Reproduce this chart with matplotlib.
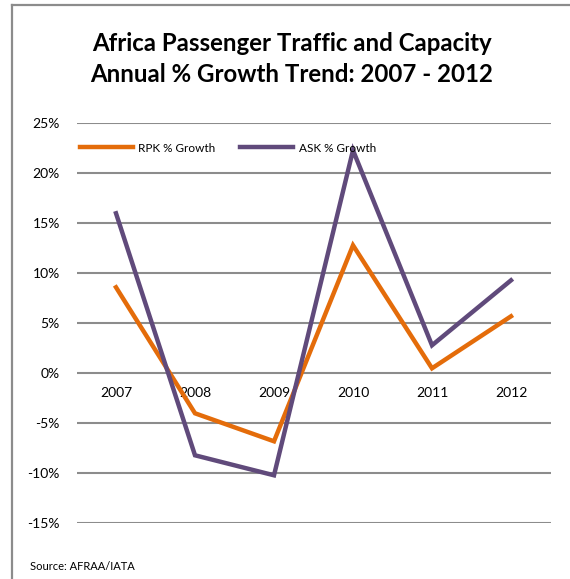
import matplotlib
matplotlib.use("Agg")
import matplotlib.pyplot as plt
from matplotlib.lines import Line2D

years = ["2007", "2008", "2009", "2010", "2011", "2012"]
rpk_growth = [8.6, -4.0, -6.8, 12.8, 0.5, 5.7]
ask_growth = [16.0, -8.2, -10.2, 22.3, 2.8, 9.3]
y_ticks = [-15, -10, -5, 0, 5, 10, 15, 20, 25]

W, H = 570, 579
plt.rcParams["font.family"] = ["Lato", "DejaVu Sans"]

fig = plt.figure(figsize=(W / 100, H / 100), dpi=100)
fig.patch.set_facecolor("white")

# outer frame (only left and top edges visible, as in the source image)
fig.add_artist(Line2D([12 / W, 12 / W], [0, 1 - 5 / H], color="#8c8c8c", lw=1.6))
fig.add_artist(Line2D([12 / W, 1], [1 - 5 / H, 1 - 5 / H], color="#8c8c8c", lw=1.6))

ax = fig.add_axes([76.5 / W, 1 - 523.3 / H, (550.5 - 76.5) / W, 400 / H])
x = list(range(len(years)))

for v in y_ticks:
    ax.axhline(v, color="#8c8c8c", lw=1.5, zorder=1)

ax.plot(x, rpk_growth, color="#E46C0A", lw=3.2, solid_joinstyle="miter",
        label="RPK % Growth", zorder=3)
ax.plot(x, ask_growth, color="#604A7B", lw=3.2, solid_joinstyle="miter",
        label="ASK % Growth", zorder=3)

ax.set_xlim(-0.5, len(years) - 0.5)
ax.set_ylim(-15, 25)
ax.set_yticks(y_ticks)
ax.set_yticklabels([f"{v}%" for v in y_ticks], fontsize=10)
ax.set_xticks(x)
ax.set_xticklabels(years, fontsize=10)
ax.spines["bottom"].set_position(("data", 0))
for s in ax.spines.values():
    s.set_visible(False)
ax.tick_params(axis="both", length=0)
ax.tick_params(axis="y", pad=12)
ax.tick_params(axis="x", pad=10)

ax.legend(loc="center left", bbox_to_anchor=(0.007, 0.938), ncol=2, frameon=False,
          fontsize=8.5, handlelength=4.5, columnspacing=2.1, handletextpad=0.45,
          borderaxespad=0, borderpad=0)

fig.text(292 / W, 1 - 59 / H,
         "Africa Passenger Traffic and Capacity\nAnnual % Growth Trend: 2007 - 2012",
         ha="center", va="center", fontsize=17.3, fontweight="bold",
         linespacing=1.42)
fig.text(30 / W, 1 - 566 / H, "Source: AFRAA/IATA", fontsize=8, va="center")

fig.savefig("out.png", dpi=100, facecolor="white")
